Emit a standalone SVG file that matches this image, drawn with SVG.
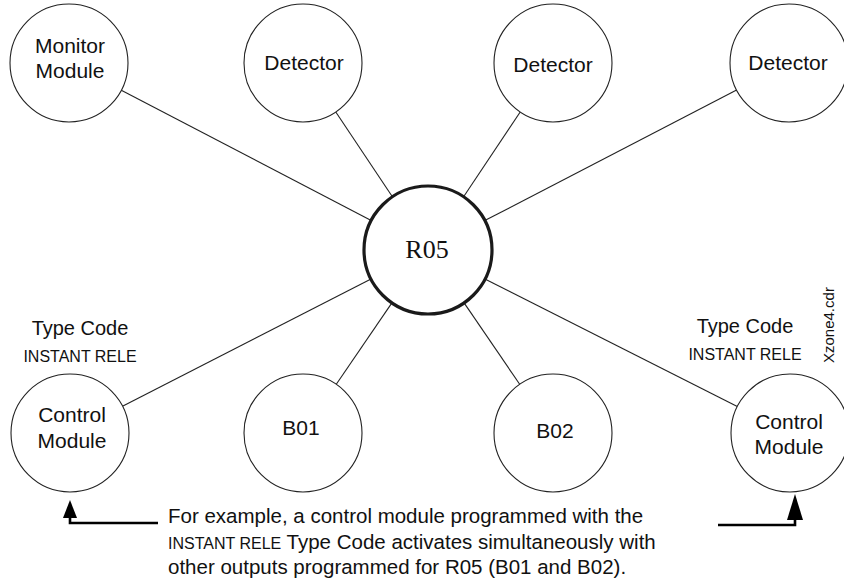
<svg xmlns="http://www.w3.org/2000/svg" width="844" height="579" viewBox="0 0 844 579">
<style>
.node{fill:#fff;stroke:#222;stroke-width:1.1}
.hub{fill:#fff;stroke:#1a1a1a;stroke-width:3.2}
.lbl{font-family:"Liberation Sans",Arial,sans-serif;font-size:21px;fill:#111;text-anchor:middle}
.tc{font-family:"Liberation Sans",Arial,sans-serif;font-size:20px;fill:#111;text-anchor:middle}
.ir{font-family:"Liberation Sans",Arial,sans-serif;font-size:16px;fill:#111;text-anchor:middle}
.note{font-family:"Liberation Sans",Arial,sans-serif;font-size:20.5px;fill:#111}
.conn line{stroke:#222;stroke-width:1.1}
.arr{fill:none;stroke:#000;stroke-width:2.6}
</style>
<rect width="844" height="579" fill="#fff"/>
<g class="conn" id="connectors">
<line x1="121.3" y1="90.3" x2="371.2" y2="220.4"/>
<line x1="335.8" y1="112" x2="392.4" y2="196.8"/>
<line x1="520.2" y1="112" x2="463.6" y2="196.8"/>
<line x1="736.6" y1="90.1" x2="484.8" y2="220.6"/>
<line x1="122.5" y1="406.2" x2="371" y2="279.1"/>
<line x1="336.3" y1="384.3" x2="391.9" y2="302.9"/>
<line x1="519.7" y1="384.3" x2="464.1" y2="302.9"/>
<line x1="737.3" y1="406.4" x2="484.9" y2="278.9"/>
</g>
<g id="monitor"><circle class="node" cx="69" cy="63" r="59"/><text class="lbl" x="70" y="53">Monitor</text><text class="lbl" x="70" y="78">Module</text></g>
<g id="det1"><circle class="node" cx="303" cy="63" r="59"/><text class="lbl" x="304" y="70">Detector</text></g>
<g id="det2"><circle class="node" cx="553" cy="63" r="59"/><text class="lbl" x="553" y="72">Detector</text></g>
<g id="det3"><circle class="node" cx="789" cy="63" r="59"/><text class="lbl" x="788" y="70">Detector</text></g>
<g id="r05"><circle class="hub" cx="428" cy="250" r="64"/><text x="427" y="258" style="font-family:'Liberation Serif','Times New Roman',serif;font-size:26px;fill:#111;text-anchor:middle">R05</text></g>
<g id="ctl-left"><circle class="node" cx="70" cy="433" r="59"/><text class="lbl" x="72" y="422">Control</text><text class="lbl" x="72" y="448">Module</text></g>
<g id="b01"><circle class="node" cx="303" cy="433" r="59"/><text class="lbl" x="301" y="435">B01</text></g>
<g id="b02"><circle class="node" cx="553" cy="433" r="59"/><text class="lbl" x="555" y="438">B02</text></g>
<g id="ctl-right"><circle class="node" cx="790" cy="433" r="59"/><text class="lbl" x="789" y="429">Control</text><text class="lbl" x="789" y="454">Module</text></g>
<g id="labels">
<text class="tc" x="80" y="335">Type Code</text>
<text class="ir" x="80" y="362">INSTANT RELE</text>
<text class="tc" x="745" y="333">Type Code</text>
<text class="ir" x="745" y="360">INSTANT RELE</text>
<text transform="translate(834,363) rotate(-90)" style="font-family:'Liberation Sans',Arial,sans-serif;font-size:15px;fill:#111">Xzone4.cdr</text>
</g>
<g id="arrows">
<polyline class="arr" points="158,523 70,523 70,515"/>
<polygon points="70,500 63,518 77,518" fill="#000"/>
<polyline class="arr" points="718,525 795,525 795,517"/>
<polygon points="795,494 787,520 803,520" fill="#000"/>
</g>
<g id="note">
<text class="note" x="168" y="523">For example, a control module programmed with the</text>
<text class="note" x="168" y="549"><tspan style="font-size:16px">INSTANT RELE</tspan> Type Code activates simultaneously with</text>
<text class="note" x="168" y="574">other outputs programmed for R05 (B01 and B02).</text>
</g>
</svg>
